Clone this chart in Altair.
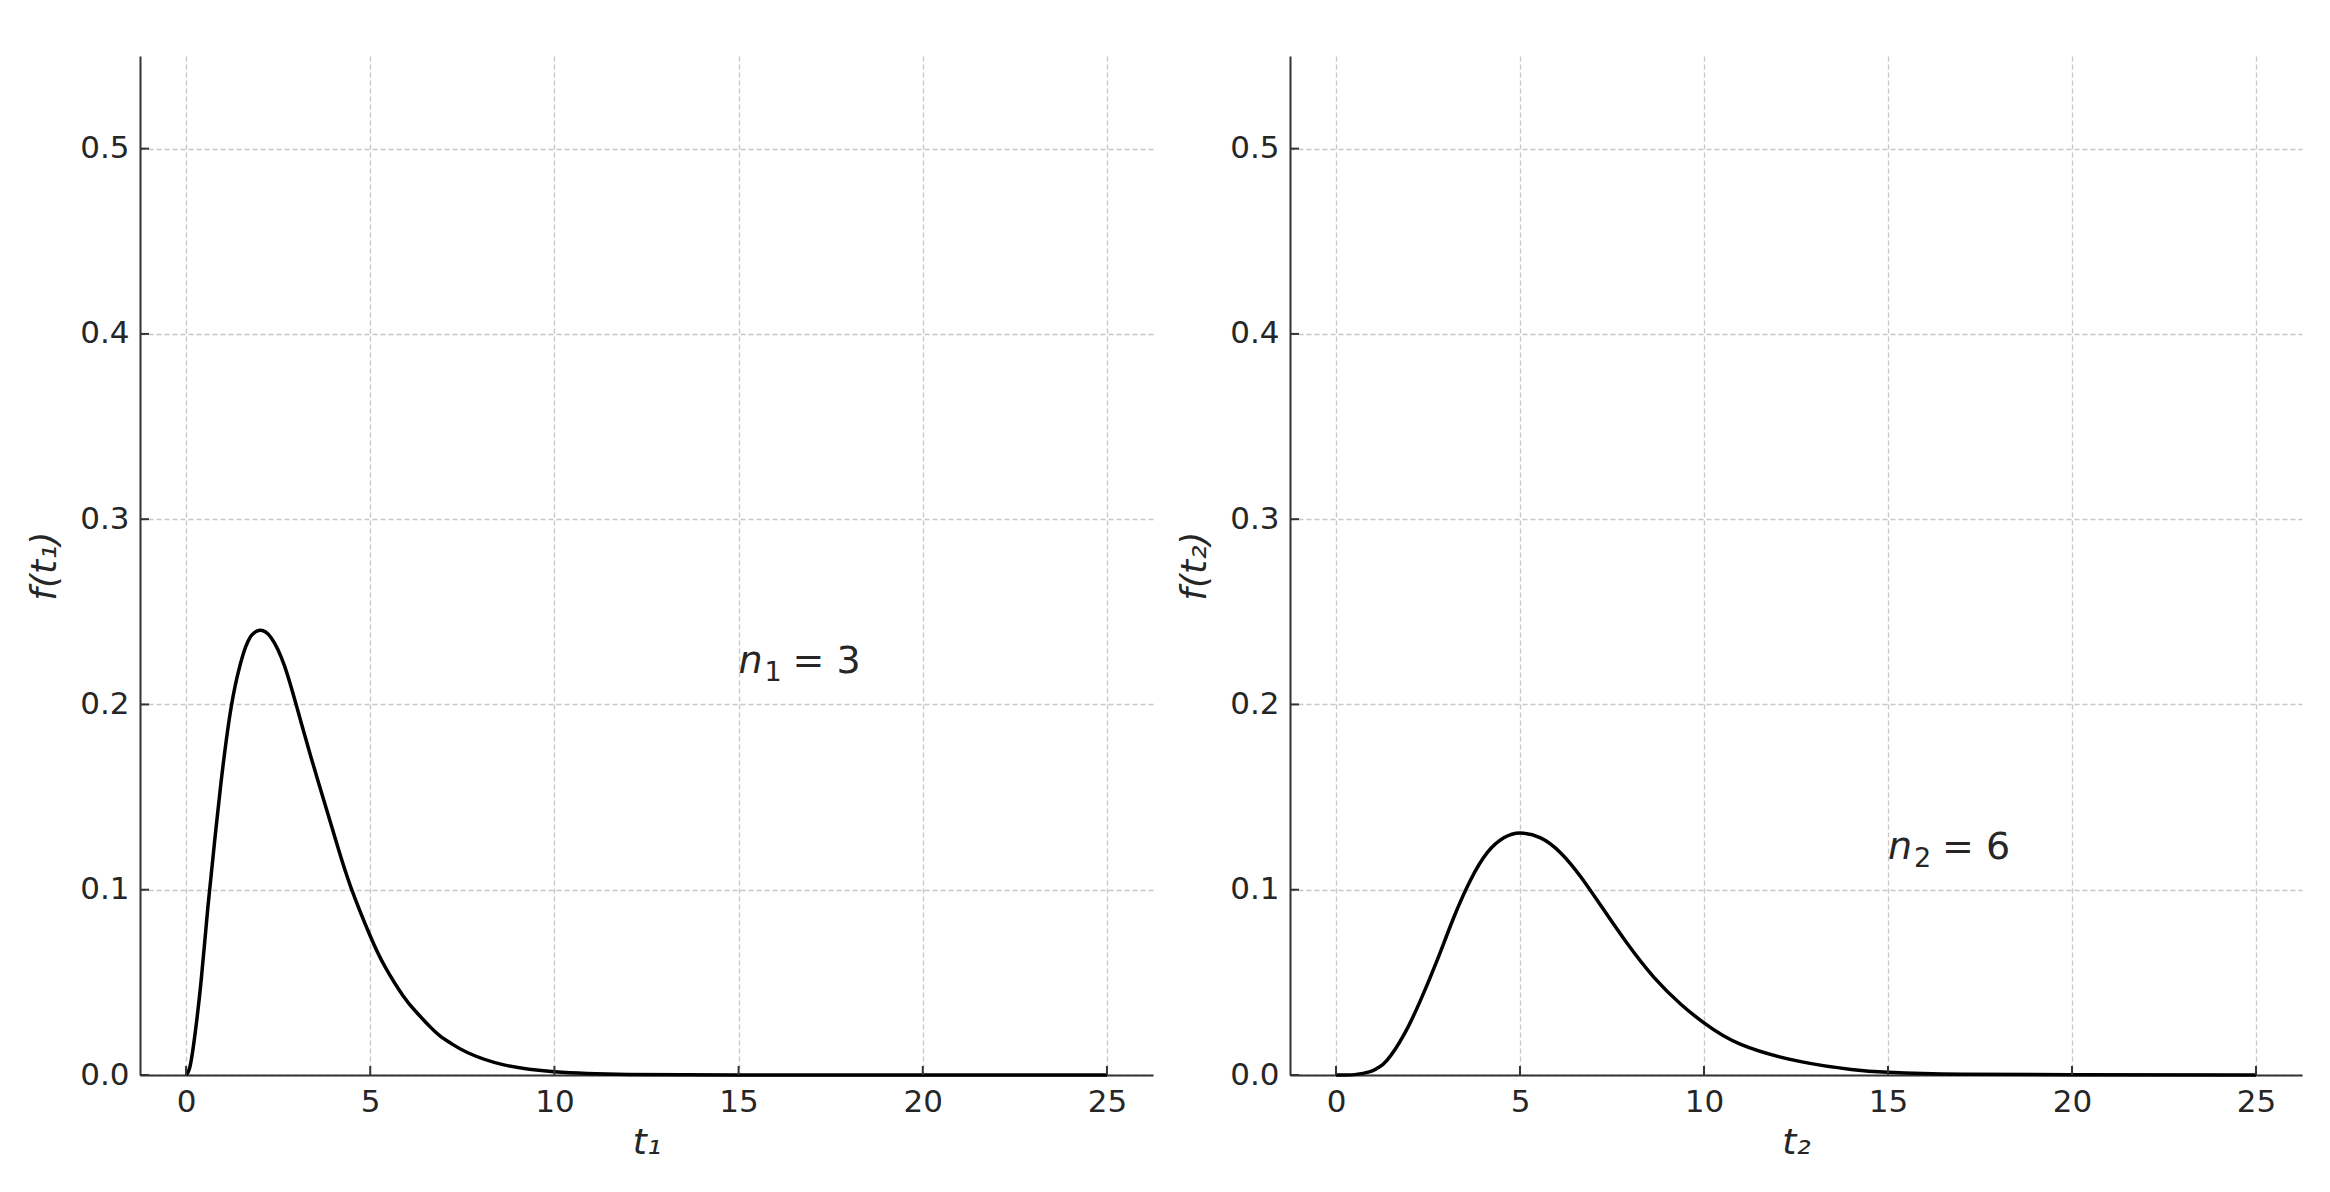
import altair as alt
import pandas as pd

# ---- data ----
t1 = [0, 0.1, 0.23, 0.41, 0.59, 0.77, 0.95, 1.18, 1.40, 1.68, 2.0, 2.31, 2.67, 3.03,
      3.40, 3.76, 4.12, 4.48, 5.0, 5.4, 5.9, 6.25, 6.6, 6.9, 7.2, 7.65, 8.6, 10, 12, 15, 20, 25]
f1 = [0, 0.004, 0.020, 0.051, 0.090, 0.125, 0.158, 0.193, 0.216, 0.234, 0.240, 0.236,
      0.221, 0.197, 0.171, 0.147, 0.123, 0.101, 0.075, 0.0585, 0.0425, 0.034, 0.0265, 0.021,
      0.017, 0.012, 0.0056, 0.0018, 0.0003, 0.0, 0.0, 0.0]

t2 = [0, 0.5, 0.93, 1.15, 1.39, 1.84, 2.29, 2.75, 3.20, 3.65, 4.11, 4.56, 5.0, 5.56, 6.10,
      6.65, 7.28, 7.92, 8.64, 9.37, 10, 11, 12.63, 14, 15, 17, 20, 25]
f2 = [0, 0.0002, 0.0018, 0.0040, 0.008, 0.0215, 0.0400, 0.062, 0.085, 0.105, 0.120, 0.128,
      0.1306, 0.128, 0.120, 0.107, 0.089, 0.0708, 0.0527, 0.0382, 0.0281, 0.0165,
      0.0072, 0.003, 0.0015, 0.0004, 0.0001, 0.0]

x_ticks = [0, 5, 10, 15, 20, 25]
y_ticks = [0.0, 0.1, 0.2, 0.3, 0.4, 0.5]
ann_sym = ["n", "n"]
ann_sub = ["1", "2"]
ann_val = ["= 3", "= 6"]
ann_x = [15, 15]
ann_y = [0.22, 0.12]
x_titles = ["t₁", "t₂"]
y_titles = ["f(t₁)", "f(t₂)"]

W = 1013
H = 1019
FONT = "DejaVu Sans"
TXT = "#262626"


def panel(t, f, i):
    xs = alt.Scale(domain=[-1.25, 26.25], nice=False, zero=False)
    ys = alt.Scale(domain=[0, 0.55], nice=False, zero=False)
    xax = alt.Axis(values=x_ticks, format="d", title=x_titles[i], grid=True,
                   ticks=False, tickSize=0, labelPadding=12, titlePadding=8,
                   titleFontStyle="italic")
    yax = alt.Axis(values=y_ticks, format=".1f", title=y_titles[i], grid=True,
                   ticks=False, tickSize=0, labelPadding=11, titlePadding=16,
                   titleFontStyle="italic")
    df = pd.DataFrame({"t": t, "f": f})
    line = alt.Chart(df).mark_line(color="black", strokeWidth=3.5, interpolate="natural").encode(
        x=alt.X("t:Q", scale=xs, axis=xax),
        y=alt.Y("f:Q", scale=ys, axis=yax),
    )
    ytk = alt.Chart(pd.DataFrame({"v": y_ticks})).mark_rule(color="#333333", strokeWidth=2).encode(
        y=alt.Y("v:Q", scale=ys, axis=yax), x=alt.value(0), x2=alt.value(9)
    )
    xtk = alt.Chart(pd.DataFrame({"v": x_ticks})).mark_rule(color="#333333", strokeWidth=2).encode(
        x=alt.X("v:Q", scale=xs, axis=xax), y=alt.value(H), y2=alt.value(H - 9)
    )
    adf = pd.DataFrame({"x": [ann_x[i]], "y": [ann_y[i]], "s": [ann_sym[i]],
                        "b": [ann_sub[i]], "v": [ann_val[i]]})
    enc = dict(x=alt.X("x:Q", scale=xs, axis=xax), y=alt.Y("y:Q", scale=ys, axis=yax))
    sym = alt.Chart(adf).mark_text(align="left", baseline="alphabetic", fontSize=38, font=FONT,
                                   fontStyle="italic", color=TXT, dy=6).encode(text="s:N", **enc)
    sub = alt.Chart(adf).mark_text(align="left", baseline="alphabetic", fontSize=27, font=FONT,
                                   color=TXT, dx=26, dy=14).encode(text="b:N", **enc)
    val = alt.Chart(adf).mark_text(align="left", baseline="alphabetic", fontSize=38, font=FONT,
                                   color=TXT, dx=54, dy=6).encode(text="v:N", **enc)
    return alt.layer(line, ytk, xtk, sym, sub, val).properties(width=W if i == 0 else 1012, height=H)


chart = alt.hconcat(panel(t1, f1, 0), panel(t2, f2, 1), spacing=23).properties(
    padding={"left": 18, "top": 48, "right": 5, "bottom": 5}
).configure_view(stroke=None).configure_axis(
    labelFont=FONT, titleFont=FONT, labelFontSize=31, titleFontSize=36,
    labelColor=TXT, titleColor=TXT, titleFontWeight="normal",
    domainColor="#333333", domainWidth=2,
    gridColor="#c8c8c8", gridDash=[5, 3], gridWidth=1.4,
)

chart.save("out.html", embed_options={"renderer": "svg", "actions": False})
